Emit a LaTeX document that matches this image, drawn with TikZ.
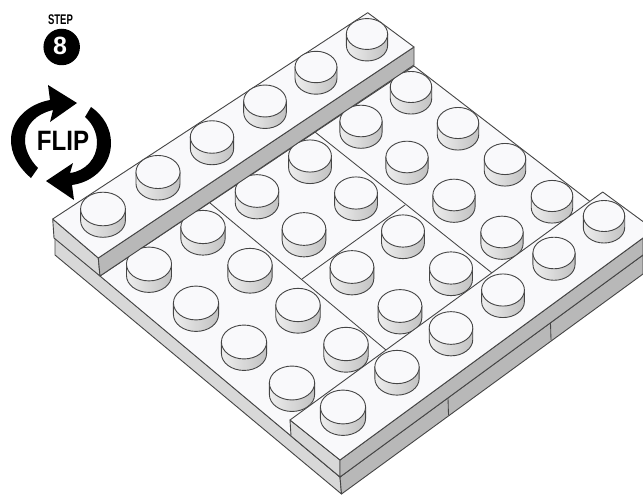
\documentclass[tikz,border=0pt]{standalone}
\usepackage{fontspec}
\setmainfont{Liberation Sans}
\definecolor{ink}{HTML}{454545}
\definecolor{surf}{HTML}{F9F9FB}
\definecolor{faceL}{HTML}{D8D8D8}
\definecolor{faceR}{HTML}{B8B8B8}
\tikzset{
  edge/.style={draw=ink,line width=0.9pt,line join=round},
  topface/.style={edge,fill=surf},
  leftface/.style={edge,fill=faceL},
  rightface/.style={edge,fill=faceR},
  seam/.style={draw=ink,line width=0.85pt},
  studside/.style={draw=ink,line width=0.9pt,left color=black!7,middle color=white,right color=black!24},
  studtop/.style={draw=ink,line width=0.9pt,fill=surf},
  iconfill/.style={fill=black,draw=none}
}
\newcommand{\studAt}[2]{%
  \pgfmathsetmacro{\rr}{21.7+(#2-0.7*#1)*0.005}%
  \pgfmathsetmacro{\dd}{11.5/(0.75*\rr)}%
  \begin{scope}[shift={(#1,#2-6)},xscale=\rr,yscale=0.75*\rr]
    \path[studside] (-1,0) -- (-1,\dd) .. controls (-1,\dd+0.5523) and (-0.5523,\dd+1) .. (0,\dd+1)
      .. controls (0.5523,\dd+1) and (1,\dd+0.5523) .. (1,\dd) -- (1,0) -- cycle;
    \path[studtop] (-1,0) .. controls (-1,0.5523) and (-0.5523,1) .. (0,1)
      .. controls (0.5523,1) and (1,0.5523) .. (1,0)
      .. controls (1,-0.5523) and (0.5523,-1) .. (0,-1)
      .. controls (-0.5523,-1) and (-1,-0.5523) .. (-1,0) -- cycle;
  \end{scope}}
\begin{document}
\begin{tikzpicture}[x=1pt,y=-1pt]
\clip (0,0) rectangle (643,495);
\useasboundingbox (0,0) rectangle (643,495);
\fill[white] (0,0) rectangle (643,495);
% base layer
\path[leftface] (55,238) -- (340,477) -- (341.5,494) -- (55,255) -- cycle;
\path[rightface] (340,477) -- (643,255) -- (643,274) -- (341.5,494) -- cycle;
\draw[seam] (448,398) -- (448.5,415);
\draw[seam] (550.5,323) -- (551,340);
% base top surface
\path[topface] (100,276) -- (414,66) -- (640,240) -- (340,477) -- cycle;
% plate divisions
\draw[seam] (210,203) -- (386,350);
\draw[seam] (315,132) -- (492,273);
\draw[seam] (405,205) -- (302,279);
% studs on the plates
\foreach \p/\q in {411/93,458/129,505/165,552/202,361/127,407/163,454/201,502/238,
  310/162,356/199,257/197,304/235,403/237,451/274,352/273,400/312,
  203/233,250/271,298/311,346/350,149/270,196/309,244/348,292/389}{\studAt{\p}{\q}}
% top strip
\path[leftface] (52.7,219) -- (98.3,258) -- (100,276) -- (54,238) -- cycle;
\path[rightface] (98.3,258) -- (414,47) -- (414,65) -- (100,276) -- cycle;
\path[topface] (52.7,219) -- (367.7,12.7) -- (414,47) -- (98.3,258) -- cycle;
\foreach \p/\q in {367/40,316/73,265/107,212/143,158/178,103/215}{\studAt{\p}{\q}}
% right strip
\path[leftface] (290,420) -- (340,460) -- (340,477) -- (291,436) -- cycle;
\path[rightface] (340,460) -- (643,238) -- (643,255) -- (340,477) -- cycle;
\path[topface] (290,420) -- (602.7,192) -- (645,223) -- (645,236.5) -- (340,460) -- cycle;
\foreach \p/\q in {604/222,554/259,503/296,451/334,397/373,343/413}{\studAt{\p}{\q}}
% step badge
\node[font=\bfseries\fontsize{14}{14}\selectfont,inner sep=0pt,xscale=0.68] (steplabel) at (60.5,20) {STEP};
\node[circle,fill=black,minimum size=36.5pt,inner sep=0pt] (badge) at (61.7,47) {};
\node[font=\bfseries\fontsize{25}{25}\selectfont,text=white,inner sep=0pt] (stepnum) at (60,45.5) {8};
% flip arrows
\path[iconfill] (31,178) .. controls (17,166) and (11,153) .. (11,140)
  .. controls (11,120) and (28,104) .. (50,100) -- (48,85) -- (77,103) -- (50,122) -- (53,110)
  .. controls (36,114) and (25,125) .. (25,140) .. controls (25,150) and (30,160) .. (38,168) -- cycle;
\path[iconfill] (91,107) .. controls (104,116) and (111,129) .. (111,143)
  .. controls (111,165) and (94,182) .. (72,185) -- (74,200) -- (46,181) -- (73,163) -- (70,173)
  .. controls (86,171) and (97,158) .. (97,143) .. controls (97,133) and (93,124) .. (85,117) -- cycle;
\node[font=\bfseries\fontsize{28}{28}\selectfont,inner sep=0pt,xscale=0.86] (fliplabel) at (63,141) {FLIP};
\end{tikzpicture}
\end{document}
